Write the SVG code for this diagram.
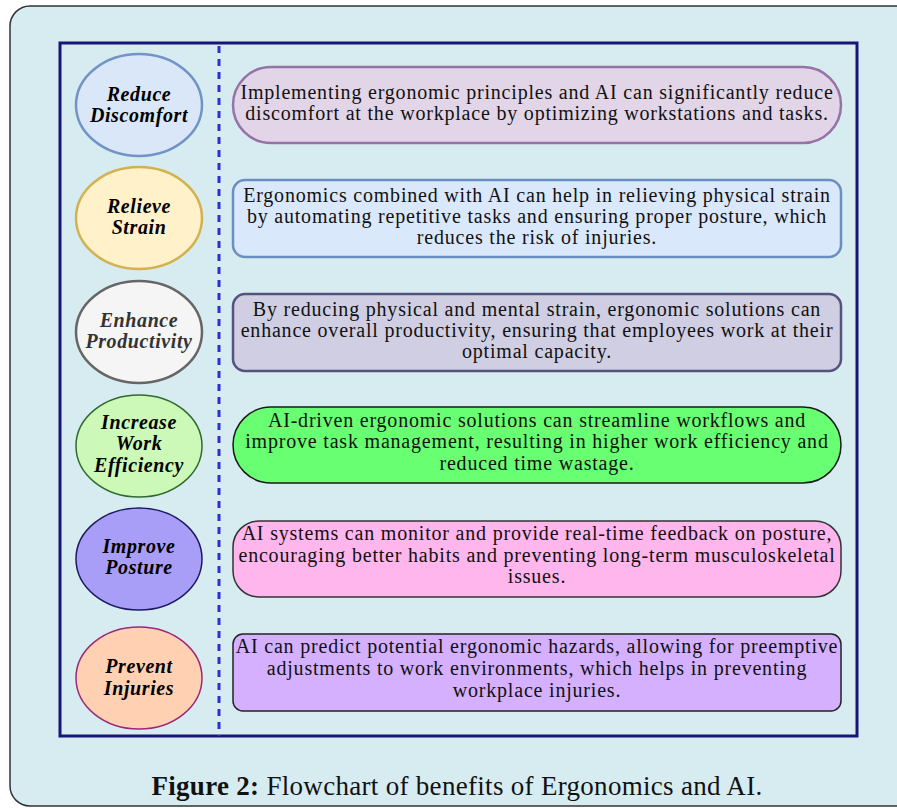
<svg xmlns="http://www.w3.org/2000/svg" width="897" height="808" viewBox="0 0 897 808">
<style>
.lbl{font-family:"Liberation Serif","Times New Roman",serif;font-weight:bold;font-style:italic;font-size:20px;letter-spacing:0.6px;fill:#000;text-anchor:middle}
.txt{font-family:"Liberation Serif","Times New Roman",serif;font-size:20px;letter-spacing:0.8px;fill:#111;text-anchor:middle}
.cap{font-family:"Liberation Serif","Times New Roman",serif;font-size:27px;letter-spacing:0.3px;fill:#111}
</style>
<rect x="10" y="6" width="910" height="800" rx="20" fill="#d7ecf1" stroke="#333" stroke-width="1.5"/>
<rect x="60" y="43" width="797" height="693" fill="#d7ecf1" stroke="#191478" stroke-width="3"/>
<g id="connectors">
<line x1="219" y1="46" x2="219" y2="736" stroke="#2a2fd6" stroke-width="3" stroke-dasharray="7,6"/>
</g>
<g id="n1">
<ellipse cx="139" cy="105" rx="63" ry="51" fill="#dae7f8" stroke="#7193c6" stroke-width="2.5"/>
<text class="lbl" x="139" y="101">Reduce</text><text class="lbl" x="139" y="122">Discomfort</text>
</g>
<g id="n2">
<ellipse cx="139" cy="218" rx="63" ry="51" fill="#fff1ca" stroke="#d4b150" stroke-width="2.5"/>
<text class="lbl" x="139" y="213">Relieve</text><text class="lbl" x="139" y="234">Strain</text>
</g>
<g id="n3">
<ellipse cx="139" cy="332" rx="63" ry="51" fill="#f5f5f5" stroke="#666" stroke-width="2.5"/>
<text class="lbl" x="139" y="327" style="fill:#333">Enhance</text><text class="lbl" x="139" y="348" style="fill:#333">Productivity</text>
</g>
<g id="n4">
<ellipse cx="139" cy="446" rx="63" ry="51" fill="#ccf8b8" stroke="#2e6b2e" stroke-width="1.5"/>
<text class="lbl" x="139" y="429">Increase</text><text class="lbl" x="139" y="450">Work</text><text class="lbl" x="139" y="472">Efficiency</text>
</g>
<g id="n5">
<ellipse cx="139" cy="559" rx="63" ry="51" fill="#a99ef7" stroke="#1c1960" stroke-width="1.5"/>
<text class="lbl" x="139" y="553">Improve</text><text class="lbl" x="139" y="574">Posture</text>
</g>
<g id="n6">
<ellipse cx="139" cy="678" rx="63" ry="51" fill="#ffd0b2" stroke="#9c2878" stroke-width="1.5"/>
<text class="lbl" x="139" y="673">Prevent</text><text class="lbl" x="139" y="695">Injuries</text>
</g>
<g id="b1">
<rect x="233" y="67" width="608" height="76" rx="38" fill="#e1d5e7" stroke="#9673a6" stroke-width="2.5"/>
<text class="txt" x="537" y="99">Implementing ergonomic principles and AI can significantly reduce</text>
<text class="txt" x="537" y="120">discomfort at the workplace by optimizing workstations and tasks.</text>
</g>
<g id="b2">
<rect x="233" y="180" width="608" height="77" rx="12" fill="#dae8fc" stroke="#6c8ebf" stroke-width="2.5"/>
<text class="txt" x="537" y="202">Ergonomics combined with AI can help in relieving physical strain</text>
<text class="txt" x="537" y="223">by automating repetitive tasks and ensuring proper posture, which</text>
<text class="txt" x="537" y="244">reduces the risk of injuries.</text>
</g>
<g id="b3">
<rect x="233" y="294" width="608" height="77" rx="12" fill="#d0cee2" stroke="#56517e" stroke-width="2.5"/>
<text class="txt" x="537" y="316">By reducing physical and mental strain, ergonomic solutions can</text>
<text class="txt" x="537" y="337">enhance overall productivity, ensuring that employees work at their</text>
<text class="txt" x="537" y="358">optimal capacity.</text>
</g>
<g id="b4">
<rect x="233" y="407" width="608" height="76" rx="38" fill="#69ff73" stroke="#1a1a1a" stroke-width="1.5"/>
<text class="txt" x="537" y="427">AI-driven ergonomic solutions can streamline workflows and</text>
<text class="txt" x="537" y="448">improve task management, resulting in higher work efficiency and</text>
<text class="txt" x="537" y="470">reduced time wastage.</text>
</g>
<g id="b5">
<rect x="233" y="521" width="608" height="76" rx="26" fill="#ffb6ec" stroke="#333" stroke-width="1.5"/>
<text class="txt" x="537" y="540">AI systems can monitor and provide real-time feedback on posture,</text>
<text class="txt" x="537" y="562">encouraging better habits and preventing long-term musculoskeletal</text>
<text class="txt" x="537" y="583">issues.</text>
</g>
<g id="b6">
<rect x="233" y="634" width="608" height="77" rx="10" fill="#d4b0ff" stroke="#222" stroke-width="1.5"/>
<text class="txt" x="537" y="653">AI can predict potential ergonomic hazards, allowing for preemptive</text>
<text class="txt" x="537" y="675">adjustments to work environments, which helps in preventing</text>
<text class="txt" x="537" y="697">workplace injuries.</text>
</g>
<text class="cap" x="457" y="795" text-anchor="middle"><tspan font-weight="bold">Figure 2:</tspan> Flowchart of benefits of Ergonomics and AI.</text>
</svg>
